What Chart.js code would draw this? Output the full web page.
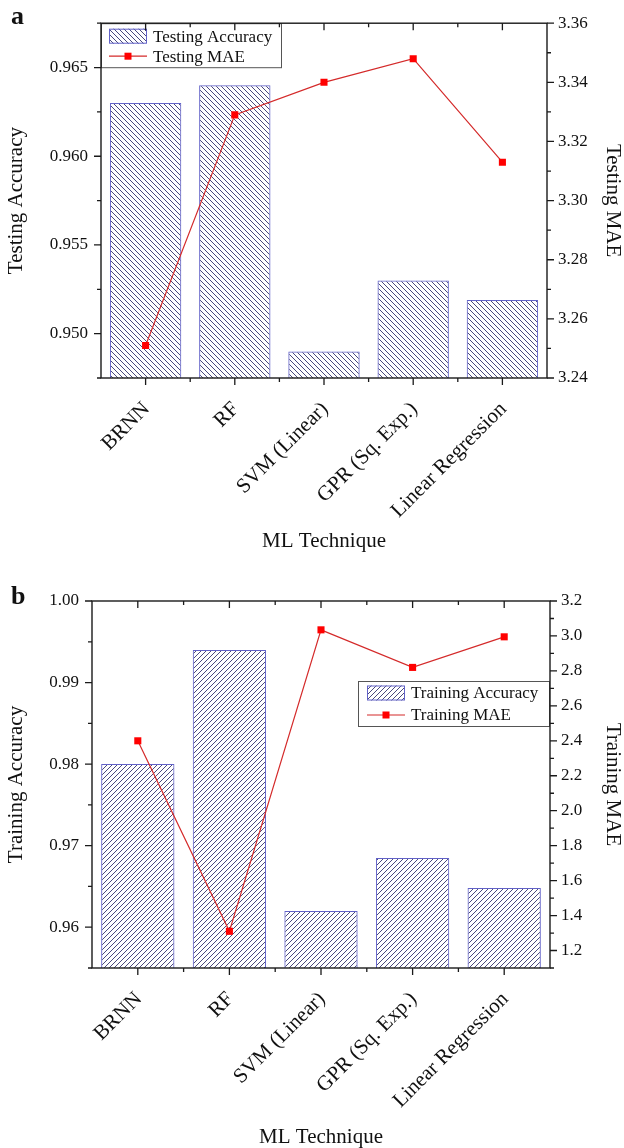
<!DOCTYPE html>
<html>
<head>
<meta charset="utf-8">
<script src="https://cdn.jsdelivr.net/npm/chart.js@4.4.1/dist/chart.umd.min.js"></script>
<style>
  html, body { margin: 0; padding: 0; background: #fff; overflow: hidden; }
  .panel { position: absolute; left: 0; width: 624px; }
  #pa { top: 0; height: 572px; }
  #pb { top: 572px; height: 576px; }
  .tag { position: absolute; left: 11px; font: bold 26px "Liberation Serif", serif; line-height: 26px; color: #111; }
</style>
</head>
<body>
<div class="panel" id="pa"><canvas id="chartA" width="624" height="572"></canvas></div>
<div class="panel" id="pb"><canvas id="chartB" width="624" height="576"></canvas></div>
<div class="tag" style="top:3px">a</div>
<div class="tag" style="top:583px">b</div>
<script>
// arvot luettu kuvasta
const categories = ['BRNN', 'RF', 'SVM (Linear)', 'GPR (Sq. Exp.)', 'Linear Regression'];

const testingAccuracy = [0.963, 0.964, 0.949, 0.953, 0.9519];
const testingMAE = [3.251, 3.329, 3.340, 3.348, 3.313];
const trainingAccuracy = [0.980, 0.994, 0.962, 0.9685, 0.9648];
const trainingMAE = [2.40, 1.31, 3.035, 2.82, 2.995];

const testAccTicks = [0.950, 0.955, 0.960, 0.965];
const testMaeTicks = [3.24, 3.26, 3.28, 3.30, 3.32, 3.34, 3.36];
const trainAccTicks = [0.96, 0.97, 0.98, 0.99, 1.00];
const trainMaeTicks = [1.2, 1.4, 1.6, 1.8, 2.0, 2.2, 2.4, 2.6, 2.8, 3.0, 3.2];

const testAccRange = [0.9475, 0.9675];
const testMaeRange = [3.24, 3.36];
const trainAccRange = [0.955, 1.00];
const trainMaeRange = [1.1, 3.2];

const FONT = '"Liberation Serif", "Times New Roman", serif';

// vinoviivoitus pylväisiin
function hatch(dir) {
  const s = 5;
  const c = document.createElement('canvas');
  c.width = s; c.height = s;
  const g = c.getContext('2d');
  g.strokeStyle = '#34346e';
  g.lineWidth = 0.9;
  g.beginPath();
  if (dir === 'back') {
    g.moveTo(-1, -1); g.lineTo(s + 1, s + 1);
    g.moveTo(-1, s - 1); g.lineTo(1, s + 1);
    g.moveTo(s - 1, -1); g.lineTo(s + 1, 1);
  } else {
    g.moveTo(-1, s + 1); g.lineTo(s + 1, -1);
    g.moveTo(-1, 1); g.lineTo(1, -1);
    g.moveTo(s - 1, s + 1); g.lineTo(s + 1, s - 1);
  }
  g.stroke();
  return g.createPattern(c, 'repeat');
}

// kehys, pikkutikit ja legenda
const framePlugin = {
  id: 'frame',
  afterDraw(chart, args, o) {
    const { ctx, chartArea: a, scales } = chart;
    ctx.save();

    // legenda
    const lg = o.box;
    const bx = lg.side === 'left' ? a.left : a.right - lg.w;
    const by = a.top + lg.dy;
    ctx.fillStyle = '#fff';
    ctx.fillRect(bx, by, lg.w, lg.h);
    ctx.strokeStyle = '#555';
    ctx.lineWidth = 1;
    ctx.strokeRect(bx + 0.5, by + 0.5, lg.w - 1, lg.h - 1);
    const [barDs, lineDs] = chart.data.datasets;
    const sx = bx + lg.pad;
    const y1 = by + lg.r1, y2 = by + lg.r2;
    ctx.fillStyle = barDs.backgroundColor;
    ctx.fillRect(sx, y1 - 7.5, 38, 15);
    ctx.strokeStyle = barDs.borderColor;
    ctx.strokeRect(sx + 0.5, y1 - 7, 37, 14);
    ctx.strokeStyle = lineDs.borderColor;
    ctx.lineWidth = 1.2;
    ctx.beginPath(); ctx.moveTo(sx, y2); ctx.lineTo(sx + 38, y2); ctx.stroke();
    ctx.fillStyle = lineDs.pointBackgroundColor;
    ctx.fillRect(sx + 19 - 3.5, y2 - 3.5, 7, 7);
    ctx.fillStyle = '#111';
    ctx.font = '17px ' + FONT;
    ctx.textBaseline = 'middle';
    ctx.fillText(barDs.label, sx + 44, y1 + 1);
    ctx.fillText(lineDs.label, sx + 44, y2 + 1);

    // kehys
    ctx.strokeStyle = '#1a1a1a';
    ctx.lineWidth = 1.4;
    ctx.strokeRect(a.left, a.top, a.right - a.left, a.bottom - a.top);

    ctx.beginPath();
    ctx.lineWidth = 1.3;
    const major = 7, minor = 4;
    [['y', -1, a.left], ['y1', 1, a.right]].forEach(([id, dir, x0]) => {
      const s = scales[id];
      const vals = s.ticks.map(t => t.value);
      const half = (vals[1] - vals[0]) / 2;
      vals.forEach(v => {
        const p = s.getPixelForValue(v);
        ctx.moveTo(x0, p); ctx.lineTo(x0 + dir * major, p);
      });
      vals.map(v => v - half).concat([vals[vals.length - 1] + half]).forEach(v => {
        if (v < s.min - 1e-9 || v > s.max + 1e-9) return;
        const p = s.getPixelForValue(v);
        ctx.moveTo(x0, p); ctx.lineTo(x0 + dir * minor, p);
      });
    });
    const xs = scales.x;
    for (let i = 0; i < categories.length; i++) {
      const p = xs.getPixelForValue(i);
      ctx.moveTo(p, a.bottom); ctx.lineTo(p, a.bottom + major);
      ctx.moveTo(p, a.top); ctx.lineTo(p, a.top + major);
      if (i > 0) {
        const q = xs.getPixelForValue(i - 0.5);
        ctx.moveTo(q, a.bottom); ctx.lineTo(q, a.bottom + minor);
        ctx.moveTo(q, a.top); ctx.lineTo(q, a.top + minor);
      }
    }
    ctx.stroke();
    ctx.restore();
  }
};

function makeChart(id, p) {
  const tickFont = { family: FONT, size: 17 };
  const titleFont = { family: FONT, size: 21, lineHeight: 1 };
  return new Chart(document.getElementById(id), {
    type: 'bar',
    data: {
      labels: categories,
      datasets: [
        {
          type: 'bar',
          label: p.accLabel,
          data: p.acc,
          yAxisID: 'y',
          order: 1,
          backgroundColor: hatch(p.hatch),
          borderColor: '#6262c8',
          borderWidth: 1,
          categoryPercentage: 0.8,
          barPercentage: 1.0
        },
        {
          type: 'line',
          label: p.maeLabel,
          data: p.mae,
          yAxisID: 'y1',
          order: 0,
          borderColor: '#d42a2a',
          borderWidth: 1.2,
          pointStyle: 'rect',
          pointRadius: 5,
          pointBorderWidth: 0,
          pointBackgroundColor: '#ff0000',
          pointBorderColor: '#ff0000',
          tension: 0
        }
      ]
    },
    options: {
      responsive: false,
      animation: false,
      layout: { padding: { top: p.top, left: 0, right: 0, bottom: p.bottom }, autoPadding: false },
      plugins: {
        legend: { display: false },
        tooltip: { enabled: false },
        frame: { box: p.box }
      },
      scales: {
        x: {
          grid: { display: false, drawTicks: false },
          border: { display: false },
          ticks: { color: '#111', font: { family: FONT, size: 21 }, minRotation: 45, maxRotation: 45, autoSkip: false, padding: 19, labelOffset: 1 },
          title: { display: true, text: 'ML Technique', color: '#111', font: titleFont, padding: { top: 0, bottom: 0 } },
          afterFit: s => { s.height = p.xh; }
        },
        y: {
          position: 'left',
          min: p.accRange[0],
          max: p.accRange[1],
          grid: { display: false, drawTicks: false },
          border: { display: false },
          afterBuildTicks: s => { s.ticks = p.accTicks.map(v => ({ value: v })); },
          ticks: { color: '#111', font: tickFont, padding: 13, callback: v => v.toFixed(p.accDec) },
          title: { display: true, text: p.accLabel, color: '#111', font: titleFont, padding: { top: 6, bottom: 0 } },
          afterFit: s => { s.width = p.lw; }
        },
        y1: {
          position: 'right',
          min: p.maeRange[0],
          max: p.maeRange[1],
          grid: { display: false, drawTicks: false },
          border: { display: false },
          afterBuildTicks: s => { s.ticks = p.maeTicks.map(v => ({ value: v })); },
          ticks: { color: '#111', font: tickFont, padding: 11, callback: v => v.toFixed(p.maeDec) },
          title: { display: true, text: p.maeLabel, color: '#111', font: titleFont, padding: { top: 1, bottom: 0 } },
          afterFit: s => { s.width = p.rw; }
        }
      }
    },
    plugins: [framePlugin]
  });
}

makeChart('chartA', {
  accLabel: 'Testing Accuracy', maeLabel: 'Testing MAE',
  acc: testingAccuracy, mae: testingMAE,
  accTicks: testAccTicks, maeTicks: testMaeTicks,
  accRange: testAccRange, maeRange: testMaeRange,
  accDec: 3, maeDec: 2, hatch: 'back',
  top: 21, bottom: 20, lw: 101, rw: 77, xh: 174,
  box: { side: 'left', dy: 0, w: 181, h: 45, pad: 8, r1: 13, r2: 33 }
});

makeChart('chartB', {
  accLabel: 'Training Accuracy', maeLabel: 'Training MAE',
  acc: trainingAccuracy, mae: trainingMAE,
  accTicks: trainAccTicks, maeTicks: trainMaeTicks,
  accRange: trainAccRange, maeRange: trainMaeRange,
  accDec: 2, maeDec: 1, hatch: 'fwd',
  top: 29, bottom: 0, lw: 92, rw: 74, xh: 180,
  box: { side: 'right', dy: 80, w: 192, h: 46, pad: 9, r1: 12, r2: 34 }
});
</script>
</body>
</html>
